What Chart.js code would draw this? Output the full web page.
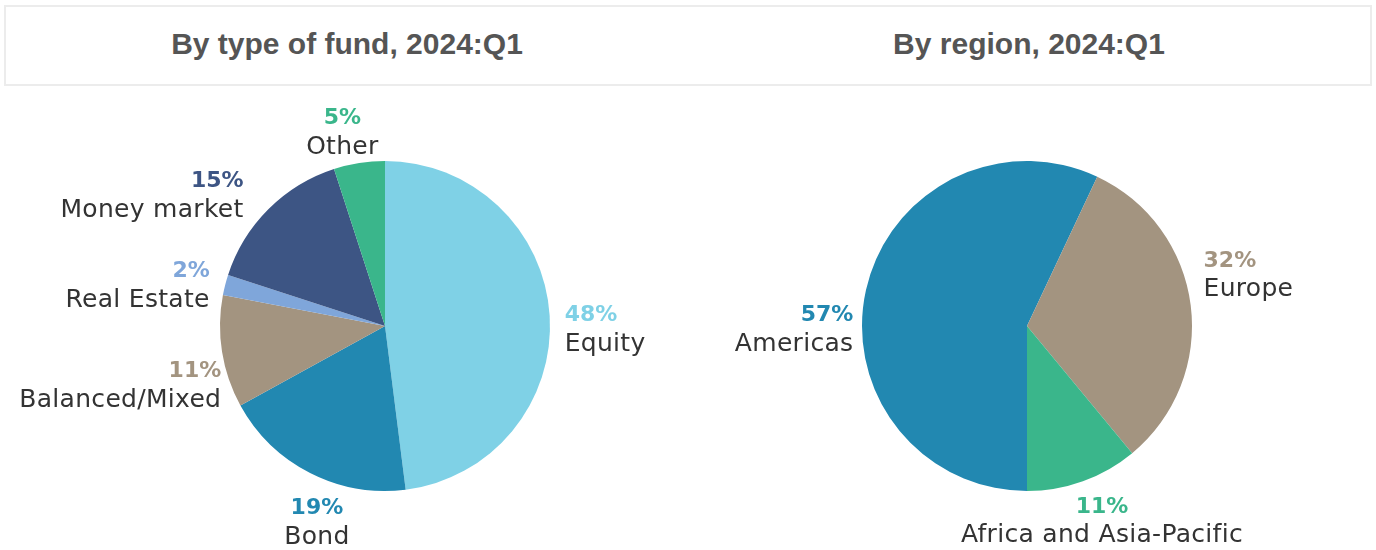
<!DOCTYPE html>
<html>
<head>
<meta charset="utf-8">
<script src="https://cdn.jsdelivr.net/npm/chart.js@4.4.1/dist/chart.umd.min.js"></script>
<style>
  html, body { margin: 0; padding: 0; background: #fff; }
  body { width: 1376px; height: 550px; position: relative; overflow: hidden; }
  .header {
    position: absolute; left: 4px; top: 5px; width: 1364px; height: 77px;
    border: 2px solid #ececec; display: flex;
  }
  .header div {
    flex: 1; text-align: center;
    font: bold 30px "Liberation Sans", Arial, sans-serif; color: #555;
    line-height: 74px;
  }
  .pie { position: absolute; top: 88px; width: 688px; height: 462px; }
  #fundWrap { left: 0; }
  #regionWrap { left: 688px; }
</style>
</head>
<body>
<div class="header">
  <div>By type of fund, 2024:Q1</div>
  <div>By region, 2024:Q1</div>
</div>
<div class="pie" id="fundWrap"><canvas id="fund"></canvas></div>
<div class="pie" id="regionWrap"><canvas id="region"></canvas></div>
<script>
const fundLabels = ["Equity", "Bond", "Balanced/Mixed", "Real Estate", "Money market", "Other"]
const fundShares = [48, 19, 11, 2, 15, 5]
const fundColors = ["#7fd1e6", "#2288b1", "#a39480", "#7fa6da", "#3d5584", "#3ab68b"]

const regionLabels = ["Americas", "Europe", "Africa and Asia-Pacific"]
const regionShares = [57, 32, 11]
const regionColors = ["#2288b1", "#a39480", "#3ab68b"]

const labelFont = '"DejaVu Sans", sans-serif'

// draws "NN%" plus the name outside each slice
const outsideLabels = {
  id: "outsideLabels",
  afterDatasetsDraw(chart, args, opts) {
    const ctx = chart.ctx
    const ds = chart.data.datasets[0]
    const meta = chart.getDatasetMeta(0)
    const lineH = 29
    ctx.save()
    ctx.textBaseline = "middle"
    meta.data.forEach((arc, i) => {
      const p = arc.getProps(["x", "y", "startAngle", "endAngle", "outerRadius"], true)
      const mid = (p.startAngle + p.endAngle) / 2
      const cx = Math.cos(mid)
      const sy = Math.sin(mid)
      const r = p.outerRadius + opts.offset
      const nudge = (opts.nudge && opts.nudge[i]) || [0, 0]
      const ax = p.x + cx * r + nudge[0]
      const ay = p.y + sy * r + nudge[1]
      let align = "center"
      if (cx > 0.5) align = "left"
      else if (cx < -0.5) align = "right"
      const top = ay - lineH + sy * lineH
      ctx.textAlign = align
      ctx.letterSpacing = "0px"
      ctx.font = "bold 22px " + labelFont
      ctx.fillStyle = ds.backgroundColor[i]
      ctx.fillText(ds.data[i] + "%", ax, top + lineH / 2)
      ctx.letterSpacing = "0.3px"
      ctx.font = "25px " + labelFont
      ctx.fillStyle = "#333"
      ctx.fillText(chart.data.labels[i], ax, top + lineH * 1.5)
    })
    ctx.restore()
  }
}

function makePie(id, labels, values, colors, rotation, padding, nudge) {
  return new Chart(document.getElementById(id), {
    type: "pie",
    data: {
      labels,
      datasets: [{
        data: values,
        backgroundColor: colors,
        borderWidth: 0
      }]
    },
    options: {
      responsive: true,
      maintainAspectRatio: false,
      animation: false,
      rotation,
      layout: { padding },
      plugins: {
        legend: { display: false },
        tooltip: { enabled: false },
        outsideLabels: { offset: 18, nudge }
      }
    },
    plugins: [outsideLabels]
  })
}

makePie("fund", fundLabels, fundShares, fundColors, 0,
  { left: 220, right: 138, top: 73, bottom: 59 },
  [[-3, 17], [15, 8], [17, 27], [2, 13], [-12, 20], [-14, 16]])
makePie("region", regionLabels, regionShares, regionColors, 180,
  { left: 174, right: 184, top: 73, bottom: 59 },
  [[5, 50], [-5, -24], [13, -4]])
</script>
</body>
</html>
